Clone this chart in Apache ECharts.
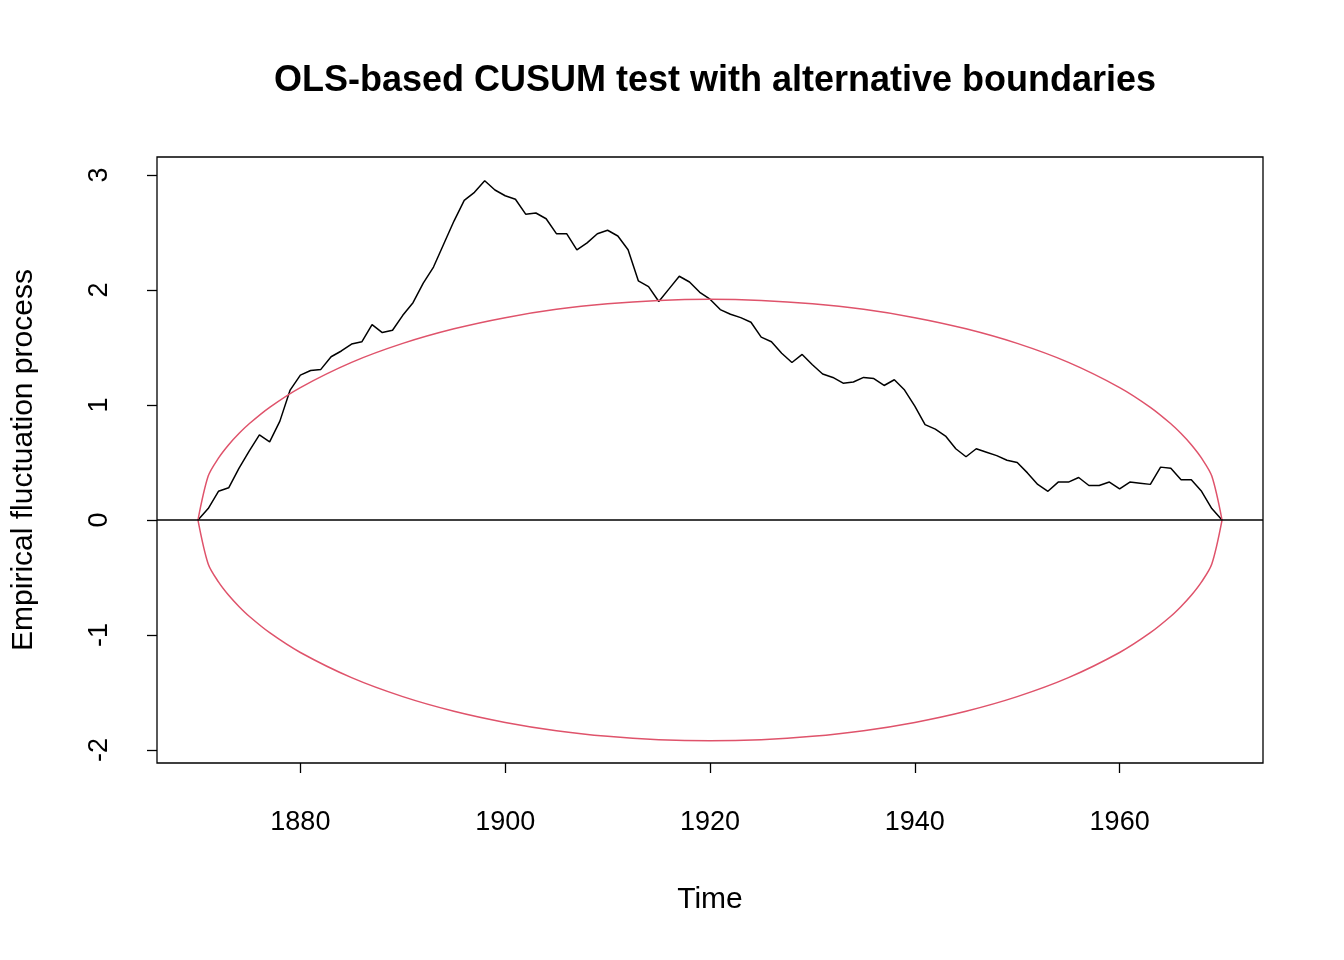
<!DOCTYPE html><html><head><meta charset="utf-8"><script src="https://cdn.jsdelivr.net/npm/echarts@6/dist/echarts.min.js"></script></head><body style="margin:0;background:#fff"><div id="c" style="width:1344px;height:960px"></div><script>
const years=[];for(let y=1870;y<=1970;y++)years.push(y);
const cusum=[0,0.1,0.25,0.28,0.45,0.6,0.74,0.68,0.86,1.13,1.26,1.3,1.31,1.42,1.47,1.53,1.55,1.7,1.63,1.65,1.78,1.89,2.06,2.2,2.4,2.6,2.78,2.85,2.95,2.87,2.82,2.79,2.66,2.67,2.62,2.49,2.49,2.35,2.41,2.49,2.52,2.47,2.35,2.08,2.03,1.9,2.01,2.12,2.07,1.98,1.92,1.83,1.79,1.76,1.72,1.59,1.55,1.45,1.37,1.44,1.35,1.27,1.24,1.19,1.2,1.24,1.23,1.17,1.22,1.13,0.99,0.83,0.79,0.73,0.62,0.55,0.62,0.59,0.56,0.52,0.5,0.41,0.31,0.25,0.33,0.33,0.37,0.3,0.3,0.33,0.27,0.33,0.32,0.31,0.46,0.45,0.35,0.35,0.25,0.1,0];
const bYears=[1870,1871,1872,1873,1874,1875,1877,1880,1885,1890,1895,1900,1905,1910,1915,1920,1925,1930,1935,1940,1945,1950,1955,1960,1963,1965,1966,1967,1968,1969,1970];
const bVals=[0,0.382,0.538,0.655,0.752,0.837,0.980,1.152,1.371,1.536,1.663,1.760,1.832,1.881,1.910,1.92,1.910,1.881,1.832,1.760,1.663,1.536,1.371,1.152,0.980,0.837,0.752,0.655,0.538,0.382,0];
const xTicks=[1880,1900,1920,1940,1960];const yTicks=[-2,-1,0,1,2,3];
const F='Liberation Sans, Arial, sans-serif';
const ch=echarts.init(document.getElementById('c'));
ch.setOption({animation:false,
title:{text:'OLS-based CUSUM test with alternative boundaries',left:710,top:58,textAlign:'center',textStyle:{fontFamily:F,fontSize:36,fontWeight:'bold',color:'#000'}},
grid:{left:157,top:157,width:1106,height:606,show:true,borderColor:'#000',borderWidth:1.3},
xAxis:{type:'value',min:1866,max:1974,name:'Time',nameLocation:'middle',nameGap:122,nameTextStyle:{fontFamily:F,fontSize:30,color:'#000'},
axisLine:{show:false,onZero:false},splitLine:{show:false},
axisTick:{show:true,length:10,lineStyle:{color:'#000',width:1.3},customValues:xTicks},
axisLabel:{fontFamily:F,fontSize:27,color:'#000',margin:46,customValues:xTicks,formatter:v=>String(v)}},
yAxis:{type:'value',min:-2.113,max:3.157,name:'Empirical fluctuation process',nameLocation:'middle',nameGap:118,nameTextStyle:{fontFamily:F,fontSize:30,color:'#000'},
axisLine:{show:false,onZero:false},splitLine:{show:false},
axisTick:{show:true,length:10,lineStyle:{color:'#000',width:1.3},customValues:yTicks},
axisLabel:{fontFamily:F,fontSize:27,color:'#000',margin:44,rotate:90,customValues:yTicks}},
series:[
{type:'line',data:years.map((y,i)=>[y,cusum[i]]),symbol:'none',lineStyle:{color:'#000',width:1.5},
markLine:{symbol:'none',silent:true,label:{show:false},lineStyle:{color:'#000',type:'solid',width:1.5},data:[{yAxis:0}]}},
{type:'line',data:bYears.map((y,i)=>[y,bVals[i]]),symbol:'none',smooth:0.3,lineStyle:{color:'#DF536B',width:1.5}},
{type:'line',data:bYears.map((y,i)=>[y,-bVals[i]]),symbol:'none',smooth:0.3,lineStyle:{color:'#DF536B',width:1.5}}
]});
</script></body></html>
